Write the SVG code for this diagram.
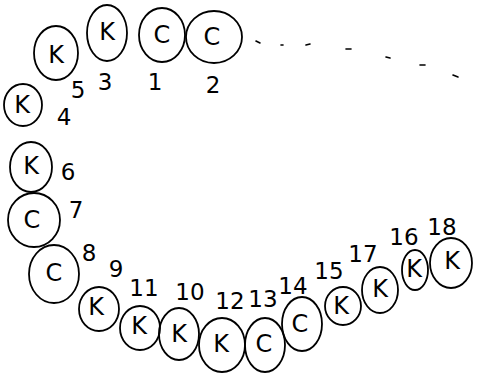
<svg xmlns="http://www.w3.org/2000/svg" width="477" height="375" viewBox="0 0 477 375">
<style>
.c{fill:none;stroke:#000;stroke-width:1.8}
.l{font-family:"DejaVu Sans","Liberation Sans",sans-serif;font-size:24px;fill:#000;text-anchor:middle;dominant-baseline:central}
.n{font-family:"DejaVu Sans","Liberation Sans",sans-serif;font-size:23px;fill:#000;text-anchor:middle;dominant-baseline:central}
.d{stroke:#000;stroke-width:1.6;stroke-linecap:round}
</style>
<rect width="477" height="375" fill="#fff"/>
<g id="connectors">
<line class="d" x1="256" y1="41" x2="260" y2="43"/>
<line class="d" x1="281" y1="45" x2="283" y2="45"/>
<line class="d" x1="306" y1="45" x2="310" y2="44"/>
<line class="d" x1="346" y1="49" x2="351" y2="49"/>
<line class="d" x1="386" y1="57" x2="390" y2="58"/>
<line class="d" x1="420" y1="65" x2="425" y2="65"/>
<line class="d" x1="453" y1="75" x2="458" y2="77"/>
</g>
<g id="node1"><ellipse class="c" cx="162" cy="35" rx="23" ry="27"/><text class="l" x="162" y="35">C</text><text class="n" x="155" y="82">1</text></g>
<g id="node2"><ellipse class="c" cx="214" cy="37" rx="28" ry="26"/><text class="l" x="212" y="37">C</text><text class="n" x="213" y="85">2</text></g>
<g id="node3"><ellipse class="c" cx="107" cy="33" rx="20" ry="28"/><text class="l" x="107" y="32">K</text><text class="n" x="105" y="82">3</text></g>
<g id="node5"><ellipse class="c" cx="56" cy="53" rx="22" ry="27"/><text class="l" x="56" y="55">K</text><text class="n" x="78" y="90">5</text></g>
<g id="node4"><ellipse class="c" cx="23" cy="105" rx="19" ry="21"/><text class="l" x="22" y="105">K</text><text class="n" x="64" y="117">4</text></g>
<g id="node6"><ellipse class="c" cx="31" cy="167" rx="21" ry="25"/><text class="l" x="31" y="166">K</text><text class="n" x="68" y="172">6</text></g>
<g id="node7"><ellipse class="c" cx="34" cy="220" rx="26" ry="27"/><text class="l" x="32" y="220">C</text><text class="n" x="76" y="210">7</text></g>
<g id="node8"><ellipse class="c" cx="54" cy="274" rx="25" ry="29"/><text class="l" x="54" y="273">C</text><text class="n" x="89" y="253">8</text></g>
<g id="node9"><ellipse class="c" cx="99" cy="309" rx="20" ry="22"/><text class="l" x="96" y="307">K</text><text class="n" x="116" y="269">9</text></g>
<g id="node11"><ellipse class="c" cx="140" cy="328" rx="20" ry="22"/><text class="l" x="139" y="326">K</text><text class="n" x="144" y="288">11</text></g>
<g id="node10"><ellipse class="c" cx="179" cy="334" rx="20" ry="26"/><text class="l" x="179" y="334">K</text><text class="n" x="190" y="292">10</text></g>
<g id="node12"><ellipse class="c" cx="222" cy="345" rx="23" ry="27"/><text class="l" x="221" y="344">K</text><text class="n" x="230" y="301">12</text></g>
<g id="node13"><ellipse class="c" cx="265" cy="345" rx="20" ry="27"/><text class="l" x="264" y="344">C</text><text class="n" x="263" y="299">13</text></g>
<g id="node14"><ellipse class="c" cx="302" cy="324" rx="20" ry="27"/><text class="l" x="300" y="324">C</text><text class="n" x="293" y="286">14</text></g>
<g id="node15"><ellipse class="c" cx="343" cy="306" rx="18" ry="19"/><text class="l" x="341" y="306">K</text><text class="n" x="329" y="271">15</text></g>
<g id="node17"><ellipse class="c" cx="380" cy="290" rx="18" ry="23"/><text class="l" x="380" y="289">K</text><text class="n" x="363" y="254">17</text></g>
<g id="node16"><ellipse class="c" cx="415" cy="270" rx="13" ry="20"/><text class="l" x="414" y="269">K</text><text class="n" x="404" y="237">16</text></g>
<g id="node18"><ellipse class="c" cx="451" cy="263" rx="21" ry="25"/><text class="l" x="452" y="261">K</text><text class="n" x="442" y="227">18</text></g>
</svg>
